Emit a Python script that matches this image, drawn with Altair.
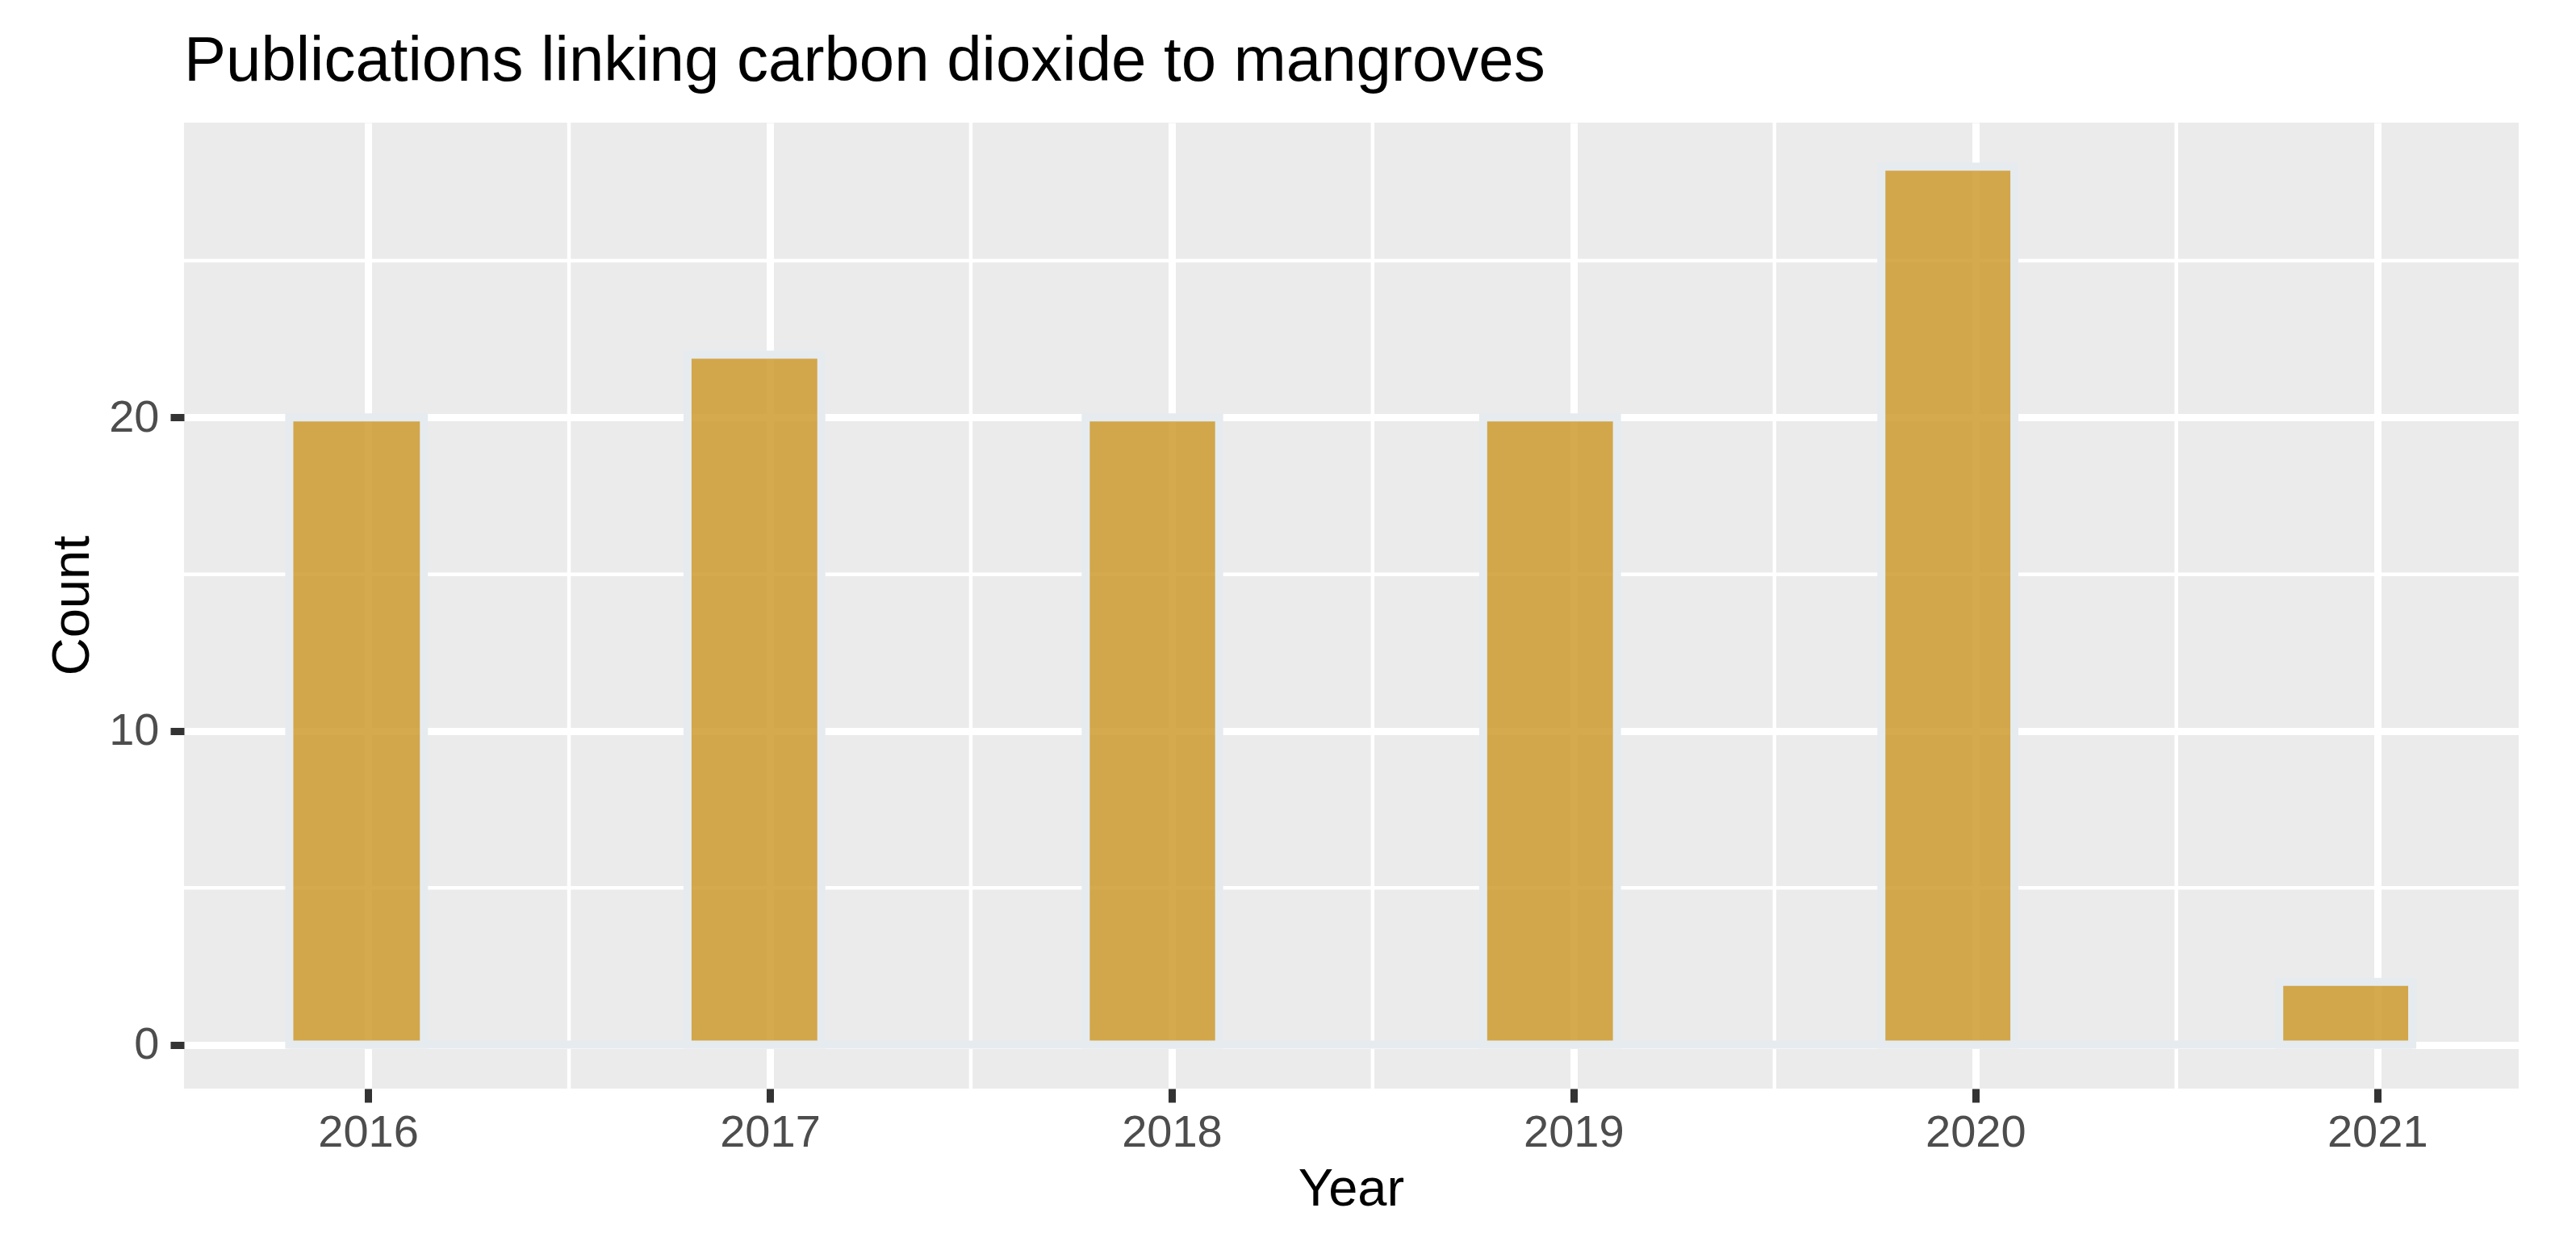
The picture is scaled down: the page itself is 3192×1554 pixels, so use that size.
import altair as alt
import pandas as pd

# ---- data ----
years = [2016, 2017, 2018, 2019, 2020, 2021]
counts = [20, 22, 20, 20, 28, 2]
bin_start = [2015.804, 2016.795, 2017.786, 2018.775, 2019.766, 2020.756]
bin_end = [2016.139, 2017.128, 2018.118, 2019.108, 2020.097, 2021.087]

x_ticks = [2016, 2017, 2018, 2019, 2020, 2021]
x_minor = [2016.5, 2017.5, 2018.5, 2019.5, 2020.5]
y_ticks = [0, 10, 20]
y_minor = [5, 15, 25]
x_domain = [2015.542, 2021.352]
y_domain = [-1.4, 29.4]

FONT = "Liberation Sans"
BAR_FILL = "#CE9A2E"
BAR_EDGE = "#E6EBEF"

bars_df = pd.DataFrame({"year": years, "count": counts, "start": bin_start, "end": bin_end})
base_df = pd.DataFrame({"start": [min(bin_start)], "end": [max(bin_end)]})
xminor_df = pd.DataFrame({"v": x_minor})
yminor_df = pd.DataFrame({"v": y_minor})

xs = alt.Scale(domain=x_domain, nice=False, zero=False)
ys = alt.Scale(domain=y_domain, nice=False, zero=False)

x_axis = alt.Axis(
    values=x_ticks, format="d", title="Year", grid=True,
    labelFlush=False, labelOverlap=False, labelPadding=10,
    titleX=1446, titleY=144, titleBaseline="alphabetic", titleAlign="center",
)
y_axis = alt.Axis(
    values=y_ticks, format="d", title="Count", grid=True,
    labelPadding=14, labelOverlap=False,
    titleX=-119, titleY=598, titleAngle=-90, titleBaseline="alphabetic", titleAlign="center",
)

minor_x = alt.Chart(xminor_df).mark_rule(color="white", strokeWidth=4.5).encode(
    x=alt.X("v:Q", scale=xs, axis=x_axis)
)
minor_y = alt.Chart(yminor_df).mark_rule(color="white", strokeWidth=4.5).encode(
    y=alt.Y("v:Q", scale=ys, axis=y_axis)
)
baseline = alt.Chart(base_df).mark_rule(color=BAR_EDGE, strokeWidth=10).encode(
    x=alt.X("start:Q", scale=xs, axis=x_axis),
    x2="end:Q",
    y=alt.datum(0, scale=ys),
)
bars = alt.Chart(bars_df).mark_rect(
    fill=BAR_FILL, fillOpacity=0.85, stroke=BAR_EDGE, strokeWidth=10
).encode(
    x=alt.X("start:Q", scale=xs, axis=x_axis),
    x2="end:Q",
    y=alt.Y("count:Q", scale=ys, axis=y_axis),
    y2=alt.datum(0),
)

chart = alt.layer(minor_x, minor_y, baseline, bars).properties(
    width=2893,
    height=1197,
    title=alt.TitleParams(
        "Publications linking carbon dioxide to mangroves",
        anchor="start", frame="group", fontSize=78, font=FONT,
        fontWeight="normal", color="black", offset=54, dy=82, baseline="alphabetic",
    ),
    autosize=alt.AutoSizeParams(type="none"),
    padding={"left": 220, "top": 144, "right": 60, "bottom": 190},
).configure_view(
    fill="#EBEBEB", strokeWidth=0
).configure_axis(
    domain=False,
    gridColor="white", gridWidth=9, gridOpacity=1,
    tickColor="#333333", tickWidth=9, tickSize=17,
    labelFont=FONT, labelFontSize=56, labelColor="#4D4D4D",
    titleFont=FONT, titleFontSize=65, titleColor="black", titleFontWeight="normal",
)

chart.save("out.html", embed_options={"renderer": "svg", "actions": False})
